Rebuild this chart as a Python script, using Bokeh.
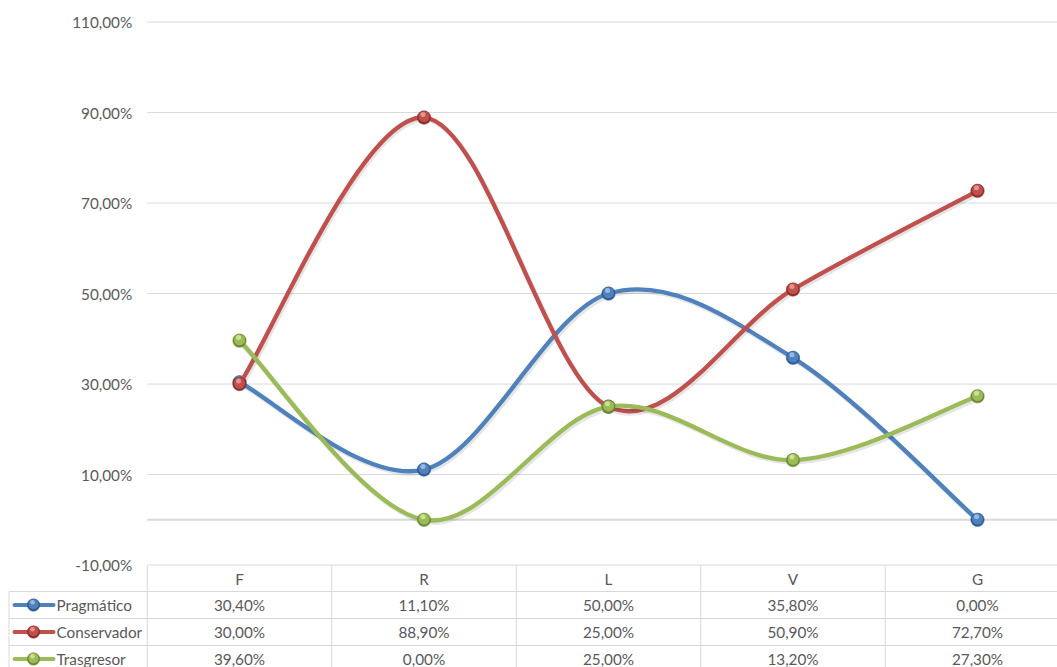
import numpy as np
from bokeh.plotting import figure
from bokeh.models import Range1d
from bokeh.embed import file_html
from bokeh.resources import INLINE
from bokeh.core.properties import value

# ---------------- data ----------------
categories = ["F", "R", "L", "V", "G"]
series_names = ["Pragmático", "Conservador", "Trasgresor"]
pragmatico = [30.4, 11.1, 50.0, 35.8, 0.0]
conservador = [30.0, 88.9, 25.0, 50.9, 72.7]
trasgresor = [39.6, 0.0, 25.0, 13.2, 27.3]
y_ticks = [-10, 10, 30, 50, 70, 90, 110]

# ---------------- styles ----------------
colors = ["#4F81BD", "#C0504D", "#9BBB59"]
dark = ["#2E5C94", "#8E2E2B", "#6E8C35"]
light = ["#A9C6EC", "#EFA3A1", "#D4EE9E"]
text_color = "#595959"
grid_color = "#D9D9D9"
FONT = value("Lato")
FS = "15.3px"

W, H = 1057, 667
COL_W = 184.5          # px per category
X0_PX = 239.0          # px of first category centre
PPU_Y = 4.525          # px per percent
Y0_PX = 519.3          # px of value 0

x_start = (0 - X0_PX) / COL_W
x_end = (W - X0_PX) / COL_W
y_top = Y0_PX / PPU_Y
y_bot = (Y0_PX - H) / PPU_Y


def px2x(px):  # px -> data x
    return (px - X0_PX) / COL_W


def px2y(py):  # px -> data y
    return (Y0_PX - py) / PPU_Y


def fmt(v):
    return f"{v:.2f}".replace(".", ",") + "%"


p = figure(width=W, height=H, x_range=Range1d(x_start, x_end),
           y_range=Range1d(y_bot, y_top), output_backend="svg",
           toolbar_location=None, min_border=0,
           x_axis_location=None, y_axis_location=None)
p.grid.visible = False
p.outline_line_color = None
p.background_fill_color = "white"
p.border_fill_color = "white"

n = len(categories)
xs = np.arange(n, dtype=float)
right = x_end + 1

# gridlines
p.segment(x0=[-0.5] * len(y_ticks), x1=[right] * len(y_ticks), y0=y_ticks, y1=y_ticks,
          line_color=grid_color, line_width=1)
# category axis line at 0
p.segment(x0=[-0.5], x1=[right], y0=[0], y1=[0], line_color=grid_color, line_width=2)

# y tick labels
p.text(x=[-0.5] * len(y_ticks), y=y_ticks, text=[fmt(t) for t in y_ticks],
       x_offset=-15, text_align="right", text_baseline="middle",
       text_font=FONT, text_font_size=FS, text_color=text_color)

# ---------------- smooth lines ----------------
all_series = [pragmatico, conservador, trasgresor]
sh = 2.0 / PPU_Y
shx = 1.5 / COL_W
for k, vals in enumerate(all_series):
    P = np.column_stack([xs, np.array(vals, dtype=float)])
    t = 1.0 / 6.0
    b = {key: [] for key in ["x0", "y0", "x1", "y1", "cx0", "cy0", "cx1", "cy1"]}
    for i in range(n - 1):
        p0 = P[max(i - 1, 0)]
        p1 = P[i]
        p2 = P[i + 1]
        p3 = P[min(i + 2, n - 1)]
        c1 = p1 + (p2 - p0) * t
        c2 = p2 - (p3 - p1) * t
        b["x0"].append(p1[0]); b["y0"].append(p1[1])
        b["x1"].append(p2[0]); b["y1"].append(p2[1])
        b["cx0"].append(c1[0]); b["cy0"].append(c1[1])
        b["cx1"].append(c2[0]); b["cy1"].append(c2[1])
    # soft shadow
    p.bezier(x0=np.array(b["x0"]) + shx, y0=np.array(b["y0"]) - sh,
             x1=np.array(b["x1"]) + shx, y1=np.array(b["y1"]) - sh,
             cx0=np.array(b["cx0"]) + shx, cy0=np.array(b["cy0"]) - sh,
             cx1=np.array(b["cx1"]) + shx, cy1=np.array(b["cy1"]) - sh,
             line_color="black", line_alpha=0.10, line_width=5, line_cap="round")
    p.bezier(**b, line_color=colors[k], line_width=4.3, line_cap="round")
    # markers (glossy)
    p.scatter(xs, vals, size=13.5, fill_color=dark[k], line_color=dark[k], line_width=0.5)
    p.scatter(xs, np.array(vals) + 0.8 / PPU_Y, size=11, fill_color=colors[k], line_color=None)
    p.scatter(xs - 1.0 / COL_W, np.array(vals) + 3.0 / PPU_Y, size=5,
              fill_color=light[k], fill_alpha=0.8, line_color=None)

# ---------------- data table ----------------
row_tops = [565, 591, 618, 645, 672]
row_edges = [px2y(r) for r in row_tops]
row_mid = [px2y((row_tops[r] + row_tops[r + 1]) / 2) for r in range(4)]
leg_left = px2x(8.5)

# vertical lines
vx = [i - 0.5 for i in range(n + 1)]
p.segment(x0=vx, x1=vx, y0=[row_edges[0]] * len(vx), y1=[y_bot - 5] * len(vx),
          line_color=grid_color, line_width=1)
p.segment(x0=[leg_left], x1=[leg_left], y0=[row_edges[1]], y1=[y_bot - 5],
          line_color=grid_color, line_width=1)
# horizontal lines
p.segment(x0=[leg_left] * 3, x1=[right] * 3, y0=row_edges[1:4], y1=row_edges[1:4],
          line_color=grid_color, line_width=1)

# header
p.text(x=xs, y=[row_mid[0]] * n, text=categories, text_align="center",
       text_baseline="middle", text_font=FONT, text_font_size=FS, text_color=text_color)

for k, vals in enumerate(all_series):
    ym = row_mid[k + 1]
    p.text(x=xs, y=[ym] * n, text=[fmt(v) for v in vals], text_align="center",
           text_baseline="middle", text_font=FONT, text_font_size=FS, text_color=text_color)
    # legend key
    p.segment(x0=[px2x(14)], x1=[px2x(53)], y0=[ym], y1=[ym], line_color=colors[k],
              line_width=4, line_cap="round")
    p.scatter([px2x(33)], [ym], size=12.5, fill_color=dark[k], line_color=dark[k], line_width=0.5)
    p.scatter([px2x(33)], [ym + 0.8 / PPU_Y], size=10, fill_color=colors[k], line_color=None)
    p.scatter([px2x(32)], [ym + 2.8 / PPU_Y], size=4.5, fill_color=light[k], fill_alpha=0.8,
              line_color=None)
    p.text(x=[px2x(56)], y=[ym], text=[series_names[k]], text_align="left",
           text_baseline="middle", text_font=FONT, text_font_size=FS, text_color=text_color)

open("out.html", "w").write(file_html(p, INLINE))
